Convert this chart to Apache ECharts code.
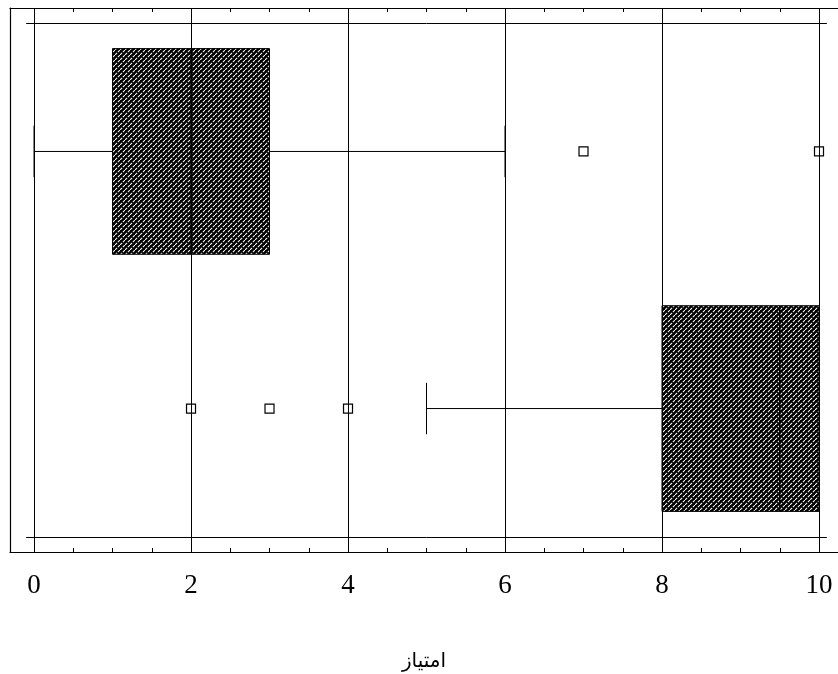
<!DOCTYPE html>
<html>
<head>
<meta charset="utf-8">
<script src="https://cdn.jsdelivr.net/npm/echarts@6/dist/echarts.min.js"></script>
<style>
html,body{margin:0;padding:0;background:#fff;}
#chart{width:838px;height:674px;}
</style>
</head>
<body>
<div id="chart"></div>
<script>
// ---- data ----
const categories = ['A', 'B'];
// [min, Q1, median, Q3, max]
const boxValues = [
  [0, 1, 2, 3, 6],
  [5, 8, 9.5, 10, 10]
];
const outlierValues = [
  [7, 10],
  [2, 3, 4]
];
const xTickLabels = [0, 2, 4, 6, 8, 10];
const xMinorTicks = [0, 0.5, 1, 1.5, 2, 2.5, 3, 3.5, 4, 4.5, 5, 5.5, 6, 6.5, 7, 7.5, 8, 8.5, 9, 9.5, 10];
const axisTitle = 'امتیاز';

// ---- hatch pattern ----
function makePattern() {
  const c = document.createElement('canvas');
  c.width = 5; c.height = 5;
  const g = c.getContext('2d');
  g.fillStyle = '#000';
  g.fillRect(0, 0, 5, 5);
  g.strokeStyle = '#fff';
  g.lineWidth = 1.05;
  g.beginPath();
  g.moveTo(-1, 6); g.lineTo(6, -1);
  g.moveTo(-1, 1); g.lineTo(1, -1);
  g.moveTo(4, 6); g.lineTo(6, 4);
  g.stroke();
  g.strokeStyle = '#000';
  g.lineWidth = 1.1;
  g.beginPath();
  g.moveTo(-1, -1); g.lineTo(6, 6);
  g.stroke();
  return c;
}
const pattern = { image: makePattern(), repeat: 'repeat' };

const boxData = boxValues.map((v, i) => [i].concat(v));
const outlierData = [];
outlierValues.forEach((arr, i) => arr.forEach(v => outlierData.push([v, i])));

const X_MIN = -0.306, X_MAX = 10.242;
const Y_MIN = -0.558, Y_MAX = 1.558;

const chart = echarts.init(document.getElementById('chart'), null, { renderer: 'canvas' });

function renderBox(params, api) {
  const ci = api.value(0);
  const mn = api.value(1), q1 = api.value(2), md = api.value(3), q3 = api.value(4), mx = api.value(5);
  const boxH = api.size([0, 0.8])[1];
  const capH = api.size([0, 0.2])[1];
  const cy = api.coord([0, ci])[1];
  const px = v => api.coord([v, ci])[0];
  const lineStyle = { stroke: '#000', lineWidth: 1 };
  const children = [];
  if (mn < q1) {
    children.push({ type: 'line', shape: { x1: px(mn), y1: cy, x2: px(q1), y2: cy }, style: lineStyle });
    children.push({ type: 'line', shape: { x1: px(mn), y1: cy - capH / 2, x2: px(mn), y2: cy + capH / 2 }, style: lineStyle });
  }
  if (mx > q3) {
    children.push({ type: 'line', shape: { x1: px(q3), y1: cy, x2: px(mx), y2: cy }, style: lineStyle });
    children.push({ type: 'line', shape: { x1: px(mx), y1: cy - capH / 2, x2: px(mx), y2: cy + capH / 2 }, style: lineStyle });
  }
  children.push({
    type: 'rect',
    shape: { x: px(q1), y: cy - boxH / 2, width: px(q3) - px(q1), height: boxH },
    style: { fill: pattern, stroke: '#000', lineWidth: 1 }
  });
  children.push({ type: 'line', shape: { x1: px(md), y1: cy - boxH / 2, x2: px(md), y2: cy + boxH / 2 }, style: { stroke: '#000', lineWidth: 1.5 } });
  return { type: 'group', children: children };
}

const gridLineData = xTickLabels.map(v => ({ xAxis: v }));
const bandEdges = [-0.5, categories.length - 0.5];
const bandLineData = bandEdges.map(y => [{ coord: [-0.1, y] }, { coord: [10.1, y] }]);

const option = {
  animation: false,
  backgroundColor: '#fff',
  grid: { left: 10, right: 0, top: 8, bottom: 122, containLabel: false, outerBoundsMode: 'none' },
  xAxis: [
    {
      type: 'value', position: 'bottom', min: X_MIN, max: X_MAX,
      axisLine: { show: true, onZero: false, lineStyle: { color: '#000', width: 1.2 } },
      axisTick: { show: true, inside: true, length: 4, customValues: xMinorTicks, lineStyle: { color: '#000' } },
      axisLabel: { show: true, customValues: xTickLabels, margin: 20, color: '#000', fontFamily: 'Liberation Serif', fontSize: 27 },
      splitLine: { show: false },
      name: axisTitle, nameLocation: 'middle', nameGap: 100,
      nameTextStyle: { color: '#000', fontFamily: 'DejaVu Sans', fontSize: 20 }
    },
    {
      type: 'value', position: 'top', min: X_MIN, max: X_MAX,
      axisLine: { show: true, onZero: false, lineStyle: { color: '#000', width: 1.2 } },
      axisTick: { show: true, inside: true, length: 4, customValues: xMinorTicks, lineStyle: { color: '#000' } },
      axisLabel: { show: false },
      splitLine: { show: false }
    }
  ],
  yAxis: {
    type: 'value', inverse: true, min: Y_MIN, max: Y_MAX,
    axisLine: { show: true, onZero: false, lineStyle: { color: '#000', width: 1.2 } },
    axisTick: { show: false }, axisLabel: { show: false }, splitLine: { show: false }
  },
  series: [
    {
      type: 'custom', name: 'box', z: 2,
      renderItem: renderBox,
      encode: { x: [1, 2, 3, 4, 5], y: 0 },
      data: boxData
    },
    {
      type: 'scatter', name: 'outliers', z: 3,
      symbol: 'rect', symbolSize: 9,
      itemStyle: { color: '#fff', borderColor: '#000', borderWidth: 1.2, opacity: 1 },
      data: outlierData
    },
    {
      type: 'line', name: 'grid', z: 4, data: [], silent: true,
      markLine: {
        silent: true, symbol: 'none', label: { show: false },
        lineStyle: { color: '#000', width: 1, type: 'solid' },
        emphasis: { disabled: true },
        data: gridLineData.concat(bandLineData)
      }
    }
  ]
};
chart.setOption(option);
</script>
</body>
</html>
